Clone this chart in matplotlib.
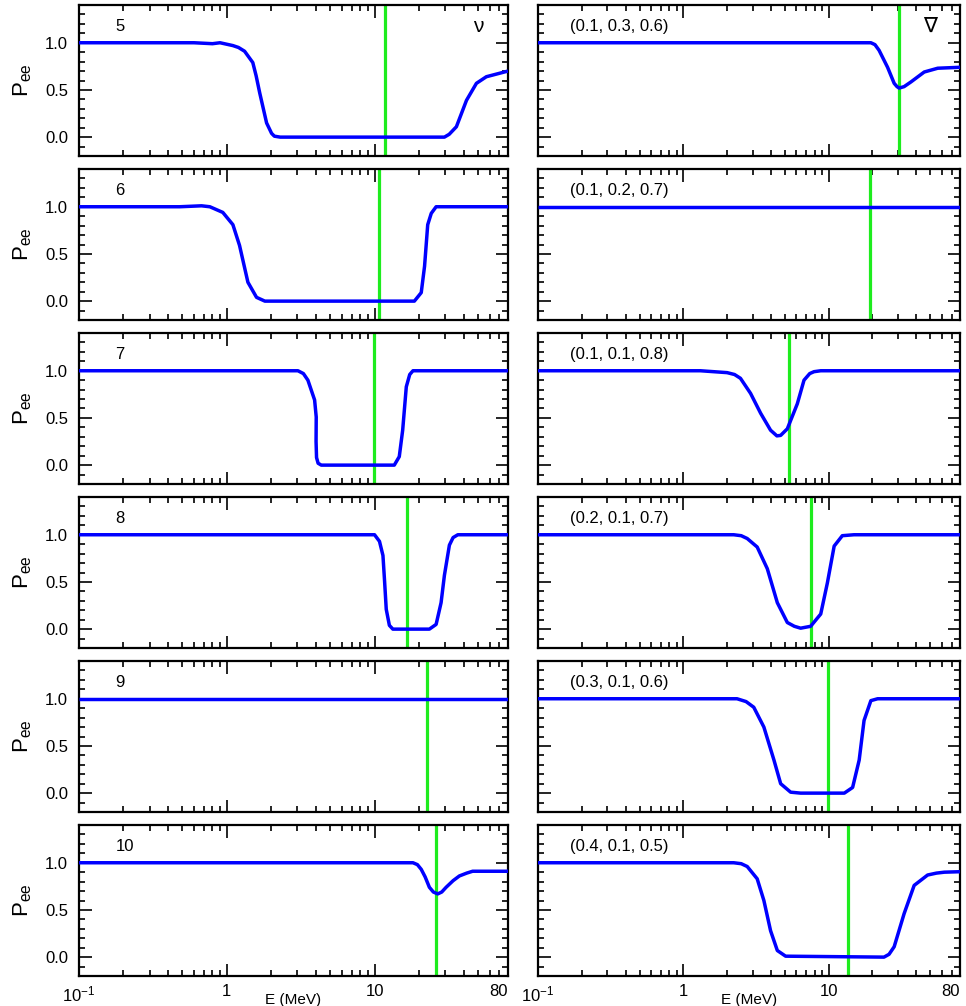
#!/usr/bin/env python3
# Pee vs E panels, nu (left) and nubar (right)

import matplotlib
matplotlib.use("Agg")
import matplotlib.pyplot as plt
from matplotlib.ticker import FixedLocator, LogLocator, NullFormatter, MultipleLocator

plt.rcParams['font.family'] = ['Liberation Sans', 'DejaVu Sans']
plt.rcParams['mathtext.fontset'] = 'custom'
plt.rcParams['mathtext.rm'] = 'Liberation Sans'

# ---------- Data ----------
left_labels = ["5", "6", "7", "8", "9", "10"]
right_labels = ["(0.1, 0.3, 0.6)", "(0.1, 0.2, 0.7)", "(0.1, 0.1, 0.8)",
                "(0.2, 0.1, 0.7)", "(0.3, 0.1, 0.6)", "(0.4, 0.1, 0.5)"]

e_5 = [0.1, 0.6, 0.8, 0.9, 1.10, 1.2, 1.32, 1.50, 1.58, 1.67, 1.86, 2.01, 2.10, 2.3, 29.7, 32.0, 35.8, 41.9, 48.9, 57.1, 80]
p_5 = [1.0, 1.0, 0.99, 1.0, 0.97, 0.95, 0.91, 0.79, 0.65, 0.47, 0.15, 0.04, 0.01, 0.0, 0.0, 0.03, 0.11, 0.39, 0.57, 0.64, 0.70]

e_6 = [0.1, 0.48, 0.675, 0.768, 0.94, 1.10, 1.22, 1.39, 1.59, 1.81, 18.6, 20.7, 21.8, 22.9, 24.2, 26.1, 80]
p_6 = [1.0, 1.0, 1.01, 1.0, 0.94, 0.81, 0.59, 0.20, 0.04, 0.0, 0.0, 0.09, 0.37, 0.81, 0.93, 1.0, 1.0]

e_7 = [0.1, 3.03, 3.3, 3.54, 3.93, 4.03, 4.02, 4.05, 4.15, 4.36, 13.6, 14.7, 15.5, 16.4, 17.3, 18.2, 80]
p_7 = [1.0, 1.0, 0.97, 0.90, 0.69, 0.51, 0.25, 0.08, 0.02, 0.0, 0.0, 0.09, 0.37, 0.83, 0.96, 1.0, 1.0]

e_8 = [0.1, 10.0, 10.8, 11.4, 11.7, 12.0, 12.6, 13.3, 23.5, 26.1, 28.2, 29.7, 32.1, 34.0, 36.6, 80]
p_8 = [1.0, 1.0, 0.93, 0.78, 0.50, 0.21, 0.04, 0.0, 0.0, 0.05, 0.28, 0.57, 0.89, 0.97, 1.0, 1.0]

e_9 = [0.1, 80]
p_9 = [1.0, 1.0]

e_10 = [0.1, 18.2, 19.5, 20.7, 22.0, 23.5, 25.0, 26.8, 28.5, 30.5, 34.0, 37.5, 42.0, 46.1, 55, 80]
p_10 = [1.0, 1.0, 0.98, 0.93, 0.85, 0.74, 0.69, 0.67, 0.69, 0.74, 0.81, 0.86, 0.89, 0.91, 0.91, 0.91]

e_136 = [0.1, 19.5, 20.8, 22.2, 25.4, 28.2, 29.5, 30.5, 33.0, 36.8, 45.4, 56.2, 80]
p_136 = [1.0, 1.0, 0.98, 0.92, 0.74, 0.57, 0.535, 0.52, 0.535, 0.585, 0.69, 0.73, 0.74]

e_127 = [0.1, 80]
p_127 = [1.0, 1.0]

e_118 = [0.1, 1.31, 2.0, 2.25, 2.47, 2.9, 3.4, 3.98, 4.4, 4.67, 5.19, 6.08, 6.76, 7.4, 7.92, 8.81, 80]
p_118 = [1.0, 1.0, 0.98, 0.96, 0.92, 0.76, 0.55, 0.37, 0.31, 0.315, 0.385, 0.65, 0.90, 0.97, 0.99, 1.0, 1.0]

e_217 = [0.1, 2.22, 2.5, 2.75, 3.22, 3.78, 4.43, 5.19, 5.8, 6.41, 7.51, 8.81, 9.79, 10.9, 12.4, 14.9, 80]
p_217 = [1.0, 1.0, 0.99, 0.96, 0.87, 0.64, 0.28, 0.07, 0.03, 0.01, 0.03, 0.16, 0.49, 0.88, 0.99, 1.0, 1.0]

e_316 = [0.1, 2.34, 2.7, 3.05, 3.58, 4.20, 4.67, 5.47, 6.41, 12.8, 14.6, 16.2, 17.5, 19.5, 21.7, 80]
p_316 = [1.0, 1.0, 0.97, 0.91, 0.70, 0.35, 0.10, 0.01, 0.0, 0.0, 0.06, 0.35, 0.77, 0.98, 1.0, 1.0]

e_415 = [0.1, 2.22, 2.5, 2.75, 3.22, 3.58, 3.98, 4.43, 5.05, 24.0, 26.0, 28.2, 33.0, 38.7, 47.9, 55.0, 62.4, 80]
p_415 = [1.0, 1.0, 0.99, 0.96, 0.83, 0.60, 0.28, 0.07, 0.01, 0.0, 0.03, 0.11, 0.46, 0.76, 0.87, 0.89, 0.90, 0.905]

left_curves = [(e_5, p_5), (e_6, p_6), (e_7, p_7), (e_8, p_8), (e_9, p_9), (e_10, p_10)]
right_curves = [(e_136, p_136), (e_127, p_127), (e_118, p_118),
                (e_217, p_217), (e_316, p_316), (e_415, p_415)]

# green vertical lines (resonance energies)
left_res = [11.7, 10.7, 9.9, 16.6, 22.8, 26.1]
right_res = [30.3, 19.2, 5.32, 7.51, 9.89, 13.6]

x_ticks = [0.1, 1, 10, 80]
x_ticklabels = [r'$\mathregular{10^{-1}}$', "1", "10", "80"]
y_ticks = [0.0, 0.5, 1.0]

# ---------- Layout ----------
W, H = 966, 1006
fig = plt.figure(figsize=(W / 100, H / 100), dpi=100)

col_x = [(79, 508), (538, 960)]
row_top0, row_pitch, row_h = 5, 164, 151


def style_axes(ax, bottom_row, left_col):
    ax.set_xscale("log")
    ax.set_xlim(0.1, 80)
    ax.set_ylim(-0.2, 1.4)
    ax.xaxis.set_major_locator(FixedLocator([0.1, 1, 10]))
    ax.xaxis.set_minor_locator(LogLocator(base=10, subs=range(2, 10)))
    ax.xaxis.set_minor_formatter(NullFormatter())
    ax.yaxis.set_major_locator(FixedLocator(y_ticks))
    ax.yaxis.set_minor_locator(MultipleLocator(0.1))
    ax.tick_params(which="both", direction="in", top=True, right=True, width=1.2)
    ax.tick_params(which="major", length=9)
    ax.tick_params(which="minor", length=4.5)
    for sp in ax.spines.values():
        sp.set_linewidth(1.6)
    if bottom_row:
        ax.set_xticks(x_ticks)
        ax.set_xticklabels(x_ticklabels, fontsize=12)
        ax.tick_params(axis="x", pad=6)
        # the "80" label sits just inside the right edge
        ax.get_xticklabels()[-1].set_horizontalalignment("right")
        ax.text(0.5, -0.16, "E (MeV)", transform=ax.transAxes,
                ha="center", va="center", fontsize=11)
    else:
        ax.set_xticklabels([])
    if left_col:
        ax.set_yticks(y_ticks)
        ax.set_yticklabels(["0.0", "0.5", "1.0"], fontsize=12)
        ax.tick_params(axis="y", pad=8)
        ax.set_ylabel(r'$\mathregular{P_{ee}}$', fontsize=16, labelpad=8)
    else:
        ax.set_yticklabels([])


for col in range(2):
    x0, x1 = col_x[col]
    curves = left_curves if col == 0 else right_curves
    labels = left_labels if col == 0 else right_labels
    res = left_res if col == 0 else right_res
    for r in range(6):
        top = row_top0 + r * row_pitch
        rect = [x0 / W, 1 - (top + row_h) / H, (x1 - x0) / W, row_h / H]
        ax = fig.add_axes(rect)
        e, p = curves[r]
        ax.axvline(res[r], color="#1eec1e", lw=2.3, zorder=2)
        ax.plot(e, p, color="#0000ff", lw=2.5, solid_joinstyle="round",
                solid_capstyle="butt", zorder=3)
        lx = 0.085 if col == 0 else 0.076
        ax.text(lx, 0.855, labels[r], transform=ax.transAxes,
                ha="left", va="center", fontsize=12)
        if r == 0:
            sym = "ν" if col == 0 else "∇"
            ax.text(0.93, 0.86, sym, transform=ax.transAxes,
                    ha="center", va="center", fontsize=15)
        style_axes(ax, r == 5, col == 0)

fig.savefig("out.png", dpi=100)
